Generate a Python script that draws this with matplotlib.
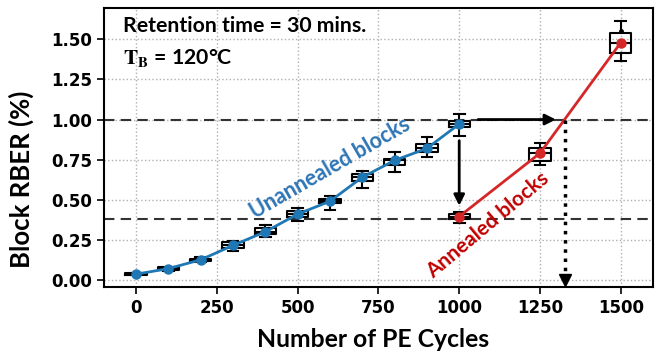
import matplotlib.pyplot as plt
import numpy as np

# unannealed blocks (blue)
pe_un = [0, 100, 200, 300, 400, 500, 600, 700, 800, 900, 1000]
rber_un = [0.035, 0.07, 0.125, 0.215, 0.30, 0.41, 0.49, 0.64, 0.745, 0.82, 0.972]
q1_un = [0.030, 0.063, 0.115, 0.198, 0.287, 0.395, 0.478, 0.619, 0.717, 0.800, 0.952]
q3_un = [0.040, 0.077, 0.132, 0.239, 0.322, 0.430, 0.503, 0.661, 0.752, 0.848, 0.993]
lo_un = [0.027, 0.058, 0.108, 0.180, 0.270, 0.364, 0.436, 0.570, 0.671, 0.765, 0.898]
hi_un = [0.045, 0.083, 0.140, 0.245, 0.343, 0.447, 0.524, 0.680, 0.796, 0.890, 1.035]

# annealed blocks (red)
pe_an = [1000, 1250, 1500]
rber_an = [0.395, 0.79, 1.48]
q1_an = [0.378, 0.744, 1.413]
q3_an = [0.410, 0.825, 1.538]
lo_an = [0.353, 0.717, 1.365]
hi_an = [0.426, 0.852, 1.615]
fliers_an = [[], [], [1.555]]

rber_limit = 1.0
rber_annealed_level = 0.38

xticks = [0, 250, 500, 750, 1000, 1250, 1500]
yticks = [0.0, 0.25, 0.5, 0.75, 1.0, 1.25, 1.5]

plt.rcParams['mathtext.fontset'] = 'stix'

fig = plt.figure(figsize=(6.57, 3.55), dpi=100)
ax = fig.add_axes([0.158, 0.1915, 0.836, 0.7855])

def stats(pos, med, q1, q3, lo, hi, fl=None):
    out = []
    for i in range(len(pos)):
        out.append(dict(med=med[i], q1=q1[i], q3=q3[i], whislo=lo[i], whishi=hi[i],
                        fliers=(fl[i] if fl else [])))
    return out

boxprops = dict(color='k', lw=1.5)
ax.bxp(stats(pe_un, rber_un, q1_un, q3_un, lo_un, hi_un), positions=pe_un, widths=66,
       boxprops=boxprops, whiskerprops=boxprops, capprops=boxprops,
       medianprops=dict(color='k', lw=1.5), manage_ticks=False,
       flierprops=dict(marker='.', color='k', ms=3))
ax.bxp(stats(pe_an, rber_an, q1_an, q3_an, lo_an, hi_an, fliers_an), positions=pe_an, widths=66,
       boxprops=boxprops, whiskerprops=boxprops, capprops=boxprops,
       medianprops=dict(color='k', lw=1.5), manage_ticks=False,
       flierprops=dict(marker='o', markerfacecolor='k', markeredgecolor='k', ms=2.5))

ax.plot(pe_un, rber_un, '-o', color='#1f77b4', lw=2, ms=6.5, zorder=5)
ax.plot(pe_an, rber_an, '-o', color='#d62728', lw=2, ms=6.5, zorder=5)

ax.axhline(rber_limit, ls=(0, (5, 3)), color='#333333', lw=1.5, zorder=1)
ax.axhline(rber_annealed_level, ls=(0, (5, 3)), color='#333333', lw=1.5, zorder=1)

# where annealed line crosses the limit
x_cross = np.interp(rber_limit, rber_an, pe_an)

arr = dict(arrowstyle='-|>', color='k', lw=2, mutation_scale=16)
ax.annotate('', xy=(pe_an[0], 0.445), xytext=(pe_an[0], 0.885), arrowprops=arr, zorder=6)
ax.annotate('', xy=(x_cross - 18, rber_limit), xytext=(pe_an[0] + 50, rber_limit),
            arrowprops=arr, zorder=6)
ax.plot([x_cross, x_cross], [rber_limit, 0.02], ':', color='k', lw=2.5, zorder=6)
ax.plot([x_cross], [-0.003], marker='v', color='k', ms=8, zorder=6)

lato = ['Lato', 'DejaVu Sans']
ax.text(0.035, 0.915, 'Retention time = 30 mins.', transform=ax.transAxes,
        family=lato, fontweight='bold', fontsize=15.3)
ax.text(0.035, 0.80, r'$\mathbf{T_B}$ = 120°C', transform=ax.transAxes,
        family=lato, fontweight='bold', fontsize=15.3)

ax.text(600, 0.70, 'Unannealed blocks', rotation=30, color='#2e75b6', family=lato,
        fontweight='bold', fontsize=15.5, ha='center', va='center')
ax.text(1090, 0.343, 'Annealed blocks', rotation=40, color='#c00000', family=lato,
        fontweight='bold', fontsize=15, ha='center', va='center')

ax.set_xlim(-100, 1600)
ax.set_ylim(-0.045, 1.695)
ax.set_xticks(xticks)
ax.set_yticks(yticks)
ax.set_yticklabels(['%.2f' % v for v in yticks])
ax.grid(True, ls=':', color='#b0b0b0', lw=1)
ax.set_axisbelow(True)
for lab in ax.get_xticklabels() + ax.get_yticklabels():
    lab.set_fontweight('bold')
    lab.set_fontsize(12)
ax.tick_params(width=1.2, length=5)
for s in ax.spines.values():
    s.set_linewidth(1.5)

ax.set_xlabel('Number of PE Cycles', family=lato, fontweight='bold', fontsize=17.8, labelpad=8)
ax.xaxis.label.set_x(0.49)
ax.set_ylabel('Block RBER (%)', family=lato, fontweight='bold', fontsize=18.5)
ax.yaxis.set_label_coords(-0.128, 0.385)

fig.savefig('out.png', dpi=100)
